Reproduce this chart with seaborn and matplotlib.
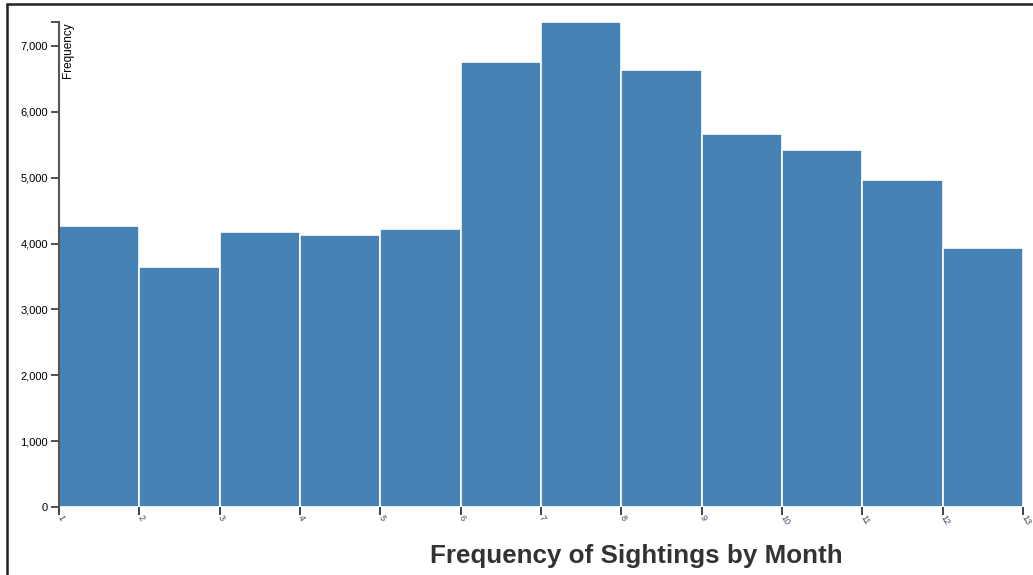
import matplotlib
matplotlib.use("Agg")
import matplotlib.pyplot as plt
import numpy as np
import pandas as pd
import seaborn as sns
from matplotlib.lines import Line2D

# sightings per month
months = list(range(1, 13))
frequency = [4270, 3644, 4172, 4125, 4221, 6750, 7364, 6642, 5670, 5425, 4958, 3940]
bin_edges = list(range(1, 14))
y_ticks = [0, 1000, 2000, 3000, 4000, 5000, 6000, 7000]

df = pd.DataFrame({"month": months, "frequency": frequency})

sns.set_style("white")
plt.rcParams["font.family"] = ["Liberation Sans", "DejaVu Sans"]

W, H = 1033, 575
fig = plt.figure(figsize=(W / 100, H / 100), dpi=100)
ax = fig.add_axes([59 / W, (H - 507) / H, (1023 - 59) / W, (507 - 22) / H])

sns.histplot(
    data=df, x="month", weights="frequency", bins=bin_edges,
    color="#4682b4", edgecolor="white", linewidth=1.2, alpha=1, ax=ax,
)

ax.set_xlim(bin_edges[0], bin_edges[-1])
ax.set_ylim(0, max(frequency))

# y axis like a d3 axis: ticks outward, comma labels, outer tick at top
ax.set_yticks(y_ticks)
ax.set_yticklabels([f"{v:,}" for v in y_ticks], fontsize=8, color="black")
ax.set_yticks([max(frequency)], minor=True)
ax.tick_params(axis="y", which="both", direction="out", length=6, width=1.2,
               color="#333333", left=True, pad=2)

# x ticks at bin edges, rotated labels, no axis line
ax.set_xticks(bin_edges)
ax.set_xticklabels([str(b) for b in bin_edges], fontsize=6.5, color="#444466",
                   rotation=-60, rotation_mode="anchor", ha="left", va="center")
ax.tick_params(axis="x", direction="out", length=6, width=1.2, color="#222222",
               bottom=True, pad=0)

for s in ["top", "right", "bottom"]:
    ax.spines[s].set_visible(False)
ax.spines["left"].set_color("#555555")
ax.spines["left"].set_linewidth(1.5)

ax.set_xlabel("")
ax.set_ylabel("")
ax.text(0.009, 1.0, "Frequency", transform=ax.transAxes, rotation=90,
        ha="center", va="top", fontsize=8.5, color="black")

fig.text(636 / W, 1 - 556 / H, "Frequency of Sightings by Month",
         ha="center", va="center", fontsize=18.7, fontweight="bold", color="#333333")

# page frame on left and top
fig.add_artist(Line2D([6.5 / W, 6.5 / W], [0, 1 - 3.5 / H], transform=fig.transFigure,
                      color="#222222", linewidth=1.8))
fig.add_artist(Line2D([6.5 / W, 1], [1 - 3.5 / H, 1 - 3.5 / H], transform=fig.transFigure,
                      color="#222222", linewidth=1.8))

fig.savefig("out.png", dpi=100)
